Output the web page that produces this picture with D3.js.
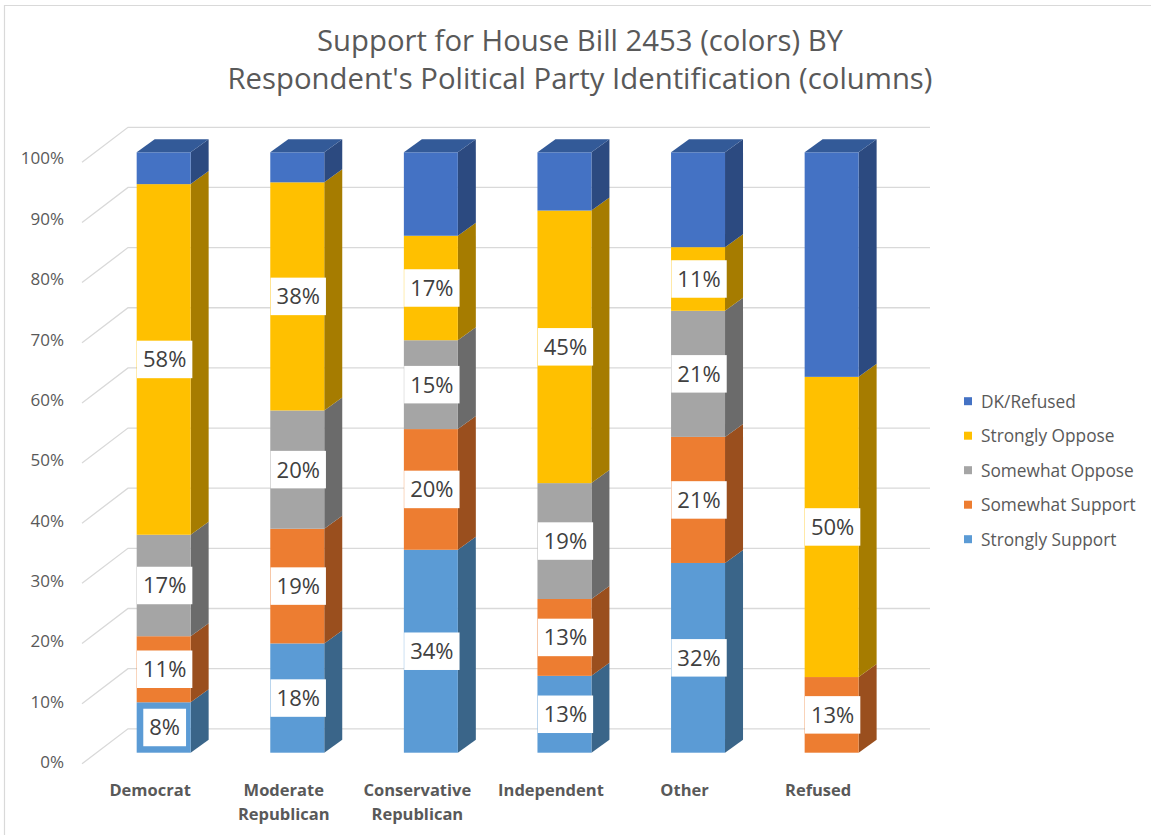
<!DOCTYPE html>
<html><head><meta charset="utf-8">
<script src="https://cdn.jsdelivr.net/npm/d3@7"></script>
<style>
body{margin:0;background:#fff;}
svg{display:block;font-family:"Open Sans",sans-serif;}
</style></head>
<body>
<svg id="chart" width="1151" height="835"></svg>
<script>
const categories = [["Democrat"],["Moderate","Republican"],["Conservative","Republican"],["Independent"],["Other"],["Refused"]];
const seriesNames = ["Strongly Support","Somewhat Support","Somewhat Oppose","Strongly Oppose","DK/Refused"];
const stronglySupport = [8.4, 18.2, 33.8, 12.8, 31.6, 0];
const somewhatSupport = [11.0, 19.1, 20.1, 12.8, 21.0, 12.6];
const somewhatOppose  = [16.9, 19.7, 14.8, 19.3, 21.0, 0];
const stronglyOppose  = [58.4, 38.0, 17.4, 45.4, 10.6, 50.0];
const dkRefused       = [5.3, 5.0, 13.9, 9.7, 15.8, 37.4];
const yTicks = [0,10,20,30,40,50,60,70,80,90,100];
const titleLines = ["Support for House Bill 2453 (colors) BY","Respondent's Political Party Identification (columns)"];

const seriesValues = [stronglySupport, somewhatSupport, somewhatOppose, stronglyOppose, dkRefused];
const frontColors = ["#5B9BD5","#ED7D31","#A5A5A5","#FFC000","#4472C4"];
const sideColors  = ["#3A6589","#9A4F1E","#6B6B6B","#A67C00","#2C4A80"];
const topColor = "#335A98";

const svg = d3.select("#chart");
const grey = "#595959";

// border
svg.append("path").attr("d","M4.5,835 V5.5 H1151").attr("fill","none").attr("stroke","#d9d9d9").attr("stroke-width",1.2);

// title
svg.selectAll("text.title").data(titleLines).join("text")
  .attr("x",580).attr("y",(d,i)=>51+i*38).attr("text-anchor","middle")
  .attr("font-size",29.3).attr("fill",grey).text(d=>d);

// scales
const yFront = d3.scaleLinear().domain([0,100]).range([752.7,152.3]);
const yWall = d3.scaleLinear().domain([0,100]).range([728.8,127.3]);
const yLabel = d3.scaleLinear().domain([0,100]).range([762,158.5]);
const x = d3.scaleBand().domain(d3.range(categories.length)).range([96.6,898.7]).paddingInner(0.596).paddingOuter(0.3);
const dx = 18, dy = -13;

// walls gridlines
const grid = svg.append("g").attr("stroke","#d9d9d9").attr("stroke-width",1.3).attr("fill","none");
yTicks.forEach(t=>{
  const yw = yWall(t);
  grid.append("path").attr("d",`M82,${yw+35} L128,${yw} H930`);
});
// y labels
svg.append("g").selectAll("text").data(yTicks).join("text")
  .attr("x",64).attr("y",d=>yLabel(d)).attr("dy","0.35em").attr("text-anchor","end")
  .attr("font-size",17).attr("fill",grey).text(d=>d+"%");

// bars
const barsG = svg.append("g");
categories.forEach((c,ci)=>{
  const x0 = x(ci), x1 = x0 + x.bandwidth();
  let cum = 0;
  const g = barsG.append("g");
  seriesValues.forEach((vals,si)=>{
    const v = vals[ci];
    if(v<=0) return;
    const yb = yFront(cum), yt = yFront(cum+v);
    g.append("path").attr("d",`M${x1},${yb} L${x1+dx},${yb+dy} L${x1+dx},${yt+dy} L${x1},${yt} Z`).attr("fill",sideColors[si]);
    g.append("rect").attr("x",x0).attr("y",yt).attr("width",x1-x0).attr("height",yb-yt).attr("fill",frontColors[si]);
    cum += v;
  });
  const yt = yFront(cum);
  g.append("path").attr("d",`M${x0},${yt} L${x0+dx},${yt+dy} L${x1+dx},${yt+dy} L${x1},${yt} Z`).attr("fill",topColor);
});

// data labels
const lblG = svg.append("g");
categories.forEach((c,ci)=>{
  const cx = x(ci) + x.bandwidth()/2 + 1;
  let cum = 0;
  seriesValues.forEach((vals,si)=>{
    const v = vals[ci];
    const mid = yFront(cum + v/2);
    cum += v;
    if(si===4 || v<=0) return;
    const gg = lblG.append("g");
    const rect = gg.append("rect").attr("fill","#fff");
    const txt = gg.append("text").attr("x",cx).attr("y",mid).attr("dy","0.36em").attr("text-anchor","middle")
      .attr("font-size",22).attr("fill","#404040").text(Math.round(v)+"%");
    const w = txt.node().getComputedTextLength();
    const pw = w + 12, ph = 37.5;
    rect.attr("x",cx-pw/2).attr("y",mid-ph/2).attr("width",pw).attr("height",ph);
  });
});

// category labels
const catG = svg.append("g");
categories.forEach((c,ci)=>{
  const cx = x(ci) + x.bandwidth()/2 - 13.5;
  const t = catG.append("text").attr("text-anchor","middle").attr("font-size",16.5).attr("font-weight","bold").attr("fill",grey);
  c.forEach((line,li)=>{
    t.append("tspan").attr("x",cx).attr("y",796+li*24).text(line);
  });
});

// legend
const legendOrder = [4,3,2,1,0];
const leg = svg.append("g");
legendOrder.forEach((si,i)=>{
  const y = 401.7 + i*34.5;
  leg.append("rect").attr("x",964).attr("y",y-4.5).attr("width",8).attr("height",8).attr("fill",frontColors[si]);
  leg.append("text").attr("x",981).attr("y",y).attr("dy","0.35em").attr("font-size",17.3).attr("fill",grey).text(seriesNames[si]);
});
</script>
</body></html>
